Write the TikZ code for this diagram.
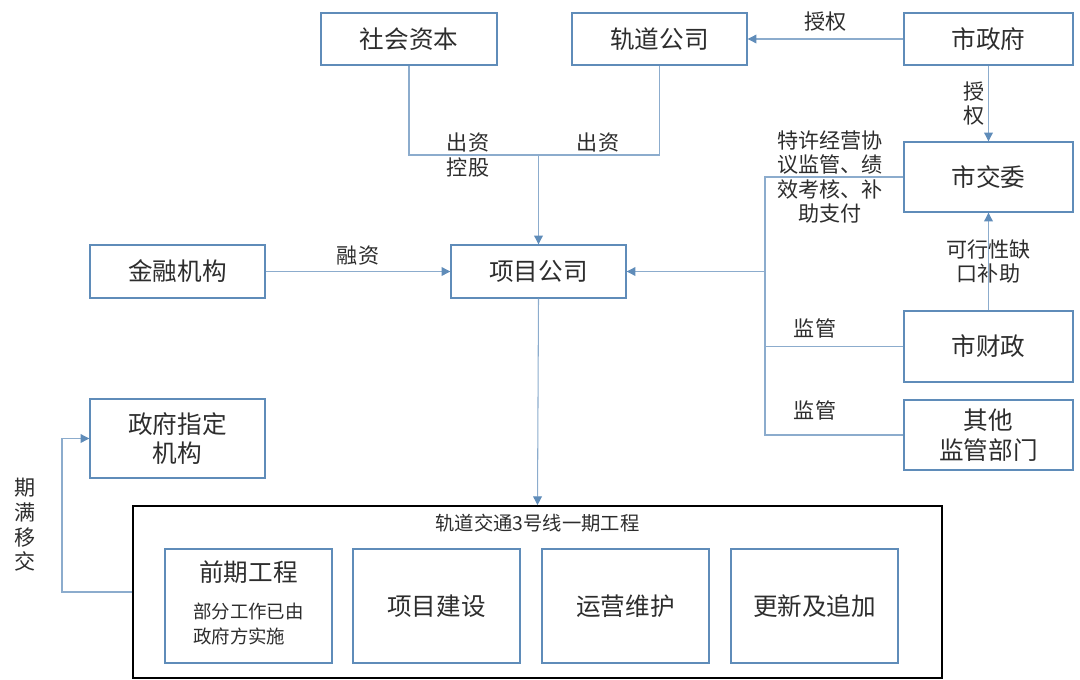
\documentclass[tikz,border=0pt]{standalone}
\usepackage{fontspec}
\setmainfont{Noto Sans CJK SC}
\usepackage{tikz}
\usetikzlibrary{arrows.meta, positioning}
\definecolor{bleu}{RGB}{95,140,185}
\definecolor{bleuclair}{RGB}{140,172,205}
\definecolor{gris}{RGB}{45,45,45}

\begin{document}
\begin{tikzpicture}[x=0.02cm, y=-0.02cm,
	boite/.style={draw=bleu, line width=0.8pt, text=gris, font=\fontsize{14}{17}\selectfont, minimum height=1.04cm},
	lien/.style={draw=bleuclair, line width=0.6pt},
	fleche/.style={lien, -{Triangle[length=5pt, width=5pt, color=bleu]}},
	etiq/.style={text=gris, font=\fontsize{12}{14}\selectfont, align=center, inner sep=1pt}]
					\useasboundingbox (0,0) rectangle (1080,680);
					% Acteurs du haut
					\node[boite, minimum width=3.52cm] (capital) at (409,39) {社会资本};
					\node[boite, minimum width=3.5cm] (rail) at (659.5,39) {轨道公司};
					\node[boite, minimum width=3.38cm] (mairie) at (988.5,39) {市政府};
					\node[boite, minimum width=3.38cm, minimum height=1.4cm] (transport) at (988.5,177) {市交委};
					\node[boite, minimum width=3.5cm, minimum height=1.06cm] (finance) at (177.5,271.5) {金融机构};
					\node[boite, minimum width=3.5cm, minimum height=1.06cm] (projet) at (538.5,271.5) {项目公司};
					\node[boite, minimum width=3.38cm, minimum height=1.42cm] (tresor) at (988.5,346.5) {市财政};
					\node[boite, minimum width=3.38cm, minimum height=1.4cm, align=center] (autres) at (988.5,435) {其他\\监管部门};
					\node[boite, minimum width=3.5cm, minimum height=1.58cm, align=center] (agence) at (177.5,438.5) {政府指定\\机构};
					% Le chantier et ses phases
					\node[draw=black, line width=1pt, minimum width=16.18cm, minimum height=3.44cm] (ligne3) at (537.5,592) {};
					\node[etiq, font=\fontsize{11}{13}\selectfont, below=4pt of ligne3.north] (titre) {轨道交通3号线一期工程};
					\node[boite, minimum width=3.34cm, minimum height=2.28cm, align=center] (amont) at (248.5,606)
					{前期工程\\[9pt]{\fontsize{10.5}{14}\selectfont\begin{tabular}{@{}l@{}}部分工作已由\\政府方实施\end{tabular}}};
					\foreach \nom/\x/\texte in {construction/436.5/项目建设, exploitation/625.5/运营维护, renouvellement/814.5/更新及追加}
						\node[boite, minimum width=3.34cm, minimum height=2.28cm] (\nom) at (\x,606) {\texte};
					% Liens
					\coordinate (jonction) at (projet.north |- 0,155);
					\coordinate (bus) at (765,0);
					\coordinate (retour) at (62,0);
					\draw[lien] (capital.south) |- (jonction) -| (rail.south);
					\draw[fleche] (jonction) -- (projet.north);
					\node[etiq] (apport1) at (468,155) {出资\\控股};
					\node[etiq] (apport2) at (598,143) {出资};
					\draw[fleche] (mairie.west) -- (rail.east) node[etiq, midway, above=3pt] (auto1) {授权};
					\draw[fleche] (mairie.south) -- (transport.north) node[etiq, midway, left=1pt] (auto2) {授\\权};
					\draw[fleche] (tresor.north) -- (transport.south) node[etiq, pos=0.5] (subv) {可行性缺\\口补助};
					\draw[fleche] (finance.east) -- (projet.west) node[etiq, midway, above=2pt] (credit) {融资};
					\draw[lien] (transport.west) -- (transport.west -| bus) -- (autres.west -| bus) -- (autres.west);
					\draw[lien] (tresor.west) -- (tresor.west -| bus);
					\draw[fleche] (projet.east -| bus) -- (projet.east);
					\node[etiq] (controle1) at (830,177) {特许经营协\\议监管、绩\\效考核、补\\助支付};
					\node[etiq] (controle2) at (815,328) {监管};
					\node[etiq] (controle3) at (815,410) {监管};
					\draw[fleche] (projet.south) -- (ligne3.north);
					\draw[fleche] (ligne3.west) -- (ligne3.west -| retour) |- (agence.west);
					\node[etiq] (transfert) at (25,525) {期\\满\\移\\交};
				\end{tikzpicture}
\end{document}
